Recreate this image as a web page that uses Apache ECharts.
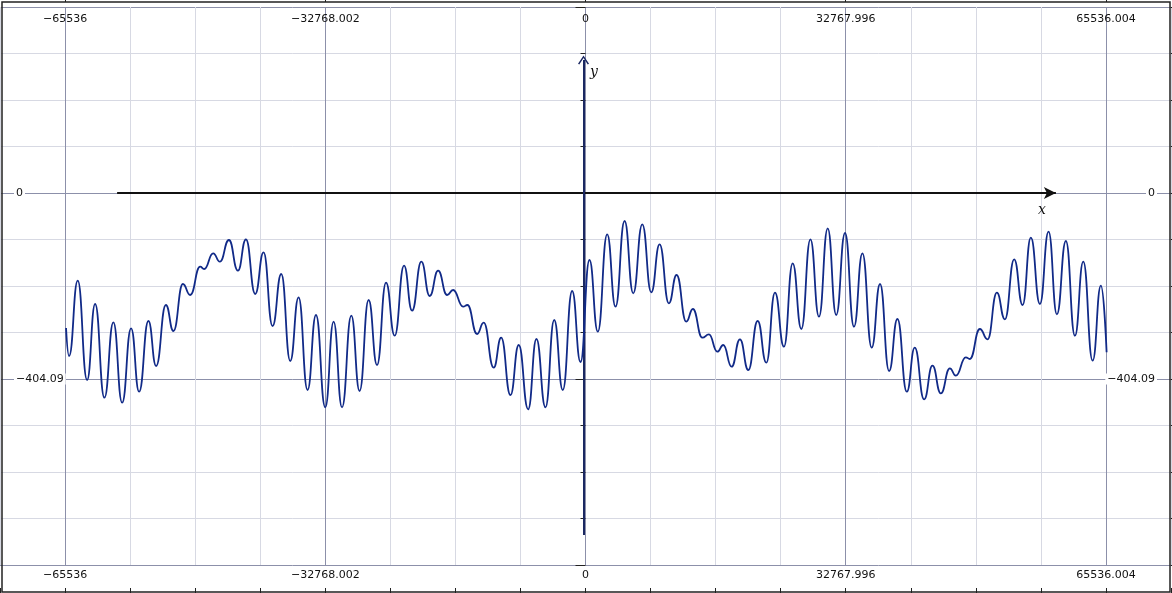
<!DOCTYPE html>
<html>
<head>
<meta charset="utf-8">
<script src="https://cdn.jsdelivr.net/npm/echarts@6/dist/echarts.min.js"></script>
<style>
  html, body { margin: 0; padding: 0; background: #fff; }
  #chart { width: 1172px; height: 593px; }
</style>
</head>
<body>
<div id="chart"></div>
<script>
// Curve: peaks and troughs, left to right
const curveX = [
  -65410, -65030, -63940, -62760, -61750, -60580, -59450, -58350, -57220, -56210,
  -55040, -54070, -52840, -51890, -50700, -49780, -48520, -48020, -46880, -46040,
  -44900, -43770, -42760, -41590, -40540, -39410, -38310, -37180, -36130, -35000,
  -33940, -32770, -31720, -30660, -29490, -28450, -27310, -26250, -25120, -24030,
  -22850, -21840, -20670, -19620, -18560, -17430, -16670, -15410, -14870, -13650,
  -12820, -11560, -10620, -9450, -8410, -7220, -6180, -5040, -3940, -2860,
  -1680, -630, 500, 1550, 2730, 3780, 4920, 6010, 7150, 8280,
  9330, 10500, 11470, 12690, 13520, 14710, 15540, 16600, 17350, 18400,
  19450, 20500, 21680, 22770, 23860, 24990, 26090, 27180, 28320, 29400,
  30500, 31570, 32680, 33810, 34870, 36040, 37090, 38230, 39280, 40460,
  41460, 42640, 43690, 44740, 45880, 46630, 47890, 48400, 49660, 50630,
  51800, 52810, 53980, 55040, 56080, 57220, 58310, 59360, 60490, 61630,
  62680, 63860, 64900, 65620
];
const curveY = [
  -293.3, -354.1, -190.5, -406.3, -241.2, -444.7, -280.9, -455.6, -293.9, -431.7,
  -278.1, -375.8, -243.3, -299.8, -197.7, -221.6, -160.1, -165.1, -131.0, -149.3,
  -102.1, -168.8, -100.6, -219.4, -128.8, -288.9, -176.0, -365.0, -226.6, -428.0,
  -265.0, -465.6, -279.6, -465.6, -266.6, -430.2, -232.5, -373.7, -194.9, -310.0,
  -157.9, -255.7, -149.3, -223.8, -168.8, -221.6, -210.7, -247.0, -243.3, -306.3,
  -281.8, -379.5, -314.4, -438.9, -330.2, -469.9, -317.2, -465.6, -275.9, -428.0,
  -212.9, -367.2, -145.6, -301.3, -89.7, -247.0, -60.8, -217.9, -68.0, -215.7,
  -111.5, -239.6, -178.1, -279.6, -252.0, -314.4, -307.0, -344.8, -330.2, -377.4,
  -317.8, -384.5, -278.1, -368.7, -216.6, -333.9, -152.7, -295.5, -100.6, -268.7,
  -76.7, -265.0, -86.9, -290.5, -131.0, -336.1, -197.7, -386.7, -273.7, -431.7,
  -336.1, -448.2, -375.2, -435.2, -380.8, -396.9, -356.9, -360.6, -295.5, -317.8,
  -216.6, -274.4, -144.0, -243.3, -97.1, -241.2, -84.1, -263.5, -104.3, -310.0,
  -149.3, -364.3, -201.4, -346.1
];

// Labelled ticks
const xTickValues = [-65536, -32768, 0, 32768, 65536];
const xTickLabels = ["\u221265536", "\u221232768.002", "0", "32767.996", "65536.004"];
const yTickValues = [0, -404.09];
const yTickLabels = ["0", "\u2212404.09"];

// Axis ranges
const xMin = -73728, xMax = 73728, xStep = 8192;
const yMin = -808.18, yMax = 404.09, yStep = 404.09;

// Ends of the drawn x and y axes (arrows)
const xAxisEnds = [-58982, 59234];
const yAxisEnds = [-743, 289];

const majorGrid = "#8c90aa";
const minorGrid = "#d7d9e3";
const labelFont = { fontFamily: "DejaVu Sans", fontSize: 11, color: "#111" };

function findLabel(values, labels, v) {
  for (let i = 0; i < values.length; i++) {
    if (Math.abs(values[i] - v) < 0.05) return labels[i];
  }
  return "";
}
const fmtX = (v) => findLabel(xTickValues, xTickLabels, v);
const fmtY = (v) => findLabel(yTickValues, yTickLabels, v);

// top / bottom edge of the frame: small ticks everywhere, longer ones + labels at the majors
// (with axisLabel.inside set, axisTick.inside:false is what points the ticks inward)
function frameAxis(pos, major) {
  let ax = {
    gridIndex: 1,
    type: "value",
    position: pos,
    min: xMin,
    max: xMax,
    axisLine: { show: false },
    splitLine: { show: false },
  };
  if (major) {
    ax.axisTick = {
      show: true, inside: false, length: 7, customValues: xTickValues,
      lineStyle: { color: "#222", width: 1 },
    };
    ax.axisLabel = Object.assign({
      show: true, inside: true, margin: pos == "top" ? 12 : 11,
      customValues: xTickValues, formatter: fmtX,
    }, labelFont);
  } else {
    ax.interval = xStep;
    ax.axisTick = { show: true, inside: true, length: 4, lineStyle: { color: "#222", width: 1 } };
    ax.axisLabel = { show: false };
  }
  return ax;
}

function sideAxis(pos, withGrid) {
  return {
    gridIndex: 0,
    type: "value",
    position: pos,
    min: yMin,
    max: yMax,
    interval: yStep,
    axisLine: { show: false },
    axisTick: { show: true, inside: false, length: 10, lineStyle: { color: "#222" } },
    minorTick: { show: true, splitNumber: 4, length: 5, lineStyle: { color: "#222" } },
    splitLine: { show: withGrid, lineStyle: { color: majorGrid, width: 1 } },
    minorSplitLine: { show: withGrid, lineStyle: { color: minorGrid, width: 1 } },
    axisLabel: Object.assign({
      inside: true, margin: 14, customValues: yTickValues, formatter: fmtY,
      backgroundColor: "#fff", padding: [0, 2],
    }, labelFont),
  };
}

const chart = echarts.init(document.getElementById("chart"));
chart.setOption({
  animation: false,
  backgroundColor: "#fff",
  grid: [
    { left: 0, right: 1, top: 7, bottom: 28 },
    { left: 0, right: 1, top: 2, bottom: 1 },
  ],
  xAxis: [
    {
      gridIndex: 0,
      type: "value",
      min: xMin,
      max: xMax,
      interval: xStep,
      axisLine: { show: false },
      axisTick: { show: false },
      axisLabel: { show: false },
      splitLine: { show: true, lineStyle: { color: [minorGrid, majorGrid, minorGrid, minorGrid], width: 1 } },
    },
    frameAxis("top", false),
    frameAxis("top", true),
    frameAxis("bottom", false),
    frameAxis("bottom", true),
  ],
  yAxis: [
    sideAxis("left", true),
    sideAxis("right", false),
    { gridIndex: 1, type: "value", show: false, min: 0, max: 1 },
  ],
  graphic: [
    {
      type: "rect",
      shape: { x: 2, y: 2, width: 1168, height: 590 },
      style: { fill: null, stroke: "#222", lineWidth: 1.5 },
      z: 100,
    },
    {
      type: "text", left: 1038, top: 203, z: 100,
      style: { text: "x", font: "italic 14px 'DejaVu Serif'", fill: "#111" },
    },
    {
      type: "text", left: 590, top: 65, z: 100,
      style: { text: "y", font: "italic 14px 'DejaVu Serif'", fill: "#111" },
    },
  ],
  series: [
    {
      type: "line",
      xAxisIndex: 0,
      yAxisIndex: 0,
      data: curveX.map((x, i) => [x, curveY[i]]),
      smooth: 0.5,
      smoothMonotone: "x",
      showSymbol: false,
      lineStyle: { color: "#112a88", width: 1.8 },
      z: 5,
      markLine: {
        silent: true,
        animation: false,
        label: { show: false },
        data: [
          [
            {
              coord: [xAxisEnds[0], 0], symbol: "none",
              lineStyle: { color: "#111", width: 2, type: "solid" },
            },
            { coord: [xAxisEnds[1], 0], symbol: "arrow", symbolSize: [9, 12] },
          ],
          [
            {
              coord: [-250, yAxisEnds[0]], symbol: "none",
              lineStyle: { color: "#1b2862", width: 2, type: "solid" },
            },
            {
              coord: [-250, yAxisEnds[1]],
              symbol: "path://M0,10 L6,0 L12,10 L10.6,10.8 L6,3 L1.4,10.8 Z",
              symbolSize: [11, 9],
            },
          ],
        ],
      },
    },
  ],
});
</script>
</body>
</html>
